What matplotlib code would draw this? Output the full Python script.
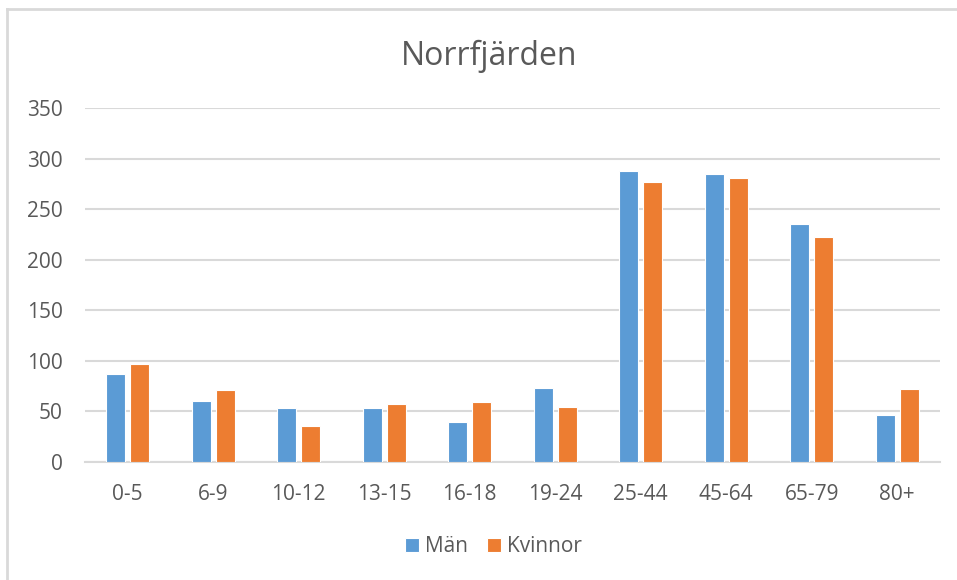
import matplotlib
matplotlib.use('Agg')
import matplotlib.pyplot as plt
import numpy as np
from matplotlib.lines import Line2D

plt.rcParams['font.family'] = ['Open Sans', 'DejaVu Sans']

# Data
#-----
categories = ['0-5', '6-9', '10-12', '13-15', '16-18', '19-24', '25-44', '45-64', '65-79', '80+']
man     = [87, 60, 53, 53, 40, 73, 288, 285, 235, 46]
kvinnor = [97, 71, 36, 57, 59, 54, 277, 281, 222, 72]

blue   = '#5B9BD5'
orange = '#ED7D31'
grid   = '#D9D9D9'
text   = '#595959'

fig = plt.figure(figsize=(9.57, 5.80), dpi=100)
ax = fig.add_axes([85/957, 1-462/580, (940-85)/957, (462-108)/580])

x = np.arange(len(categories))
w = 0.222
off = 0.143
ax.bar(x - off, man, w, color=blue, edgecolor='white', linewidth=0.8, label='Män', zorder=3)
ax.bar(x + off, kvinnor, w, color=orange, edgecolor='white', linewidth=0.8, label='Kvinnor', zorder=3)

ax.set_xlim(-0.5, len(categories) - 0.5)
ax.set_ylim(0, 350)
ax.set_yticks(range(0, 351, 50))
ax.set_xticks(x)
ax.set_xticklabels(categories)
ax.yaxis.grid(True, color=grid, linewidth=1.5, zorder=0)
ax.set_axisbelow(True)
for s in ['top', 'right', 'left']:
    ax.spines[s].set_visible(False)
ax.spines['bottom'].set_color(grid)
ax.spines['bottom'].set_linewidth(1.5)
ax.tick_params(axis='both', length=0, labelcolor=text, labelsize=15)
ax.tick_params(axis='x', pad=16)
ax.tick_params(axis='y', pad=16)

fig.text(0.511, 1-56/580, 'Norrfjärden', ha='center', va='center', fontsize=23, color=text)

fig.legend(loc='center', bbox_to_anchor=(0.5157, 1-547/580), ncol=2, frameon=False,
           fontsize=15, handlelength=0.65, handleheight=0.65, handletextpad=0.3,
           columnspacing=0.9, labelcolor=text)

# chart border
fig.add_artist(Line2D([7/957, 1], [1-9/580, 1-9/580], color=grid, linewidth=2, transform=fig.transFigure))
fig.add_artist(Line2D([7/957, 7/957], [0, 1-9/580], color=grid, linewidth=2, transform=fig.transFigure))

fig.savefig('out.png', dpi=100)
